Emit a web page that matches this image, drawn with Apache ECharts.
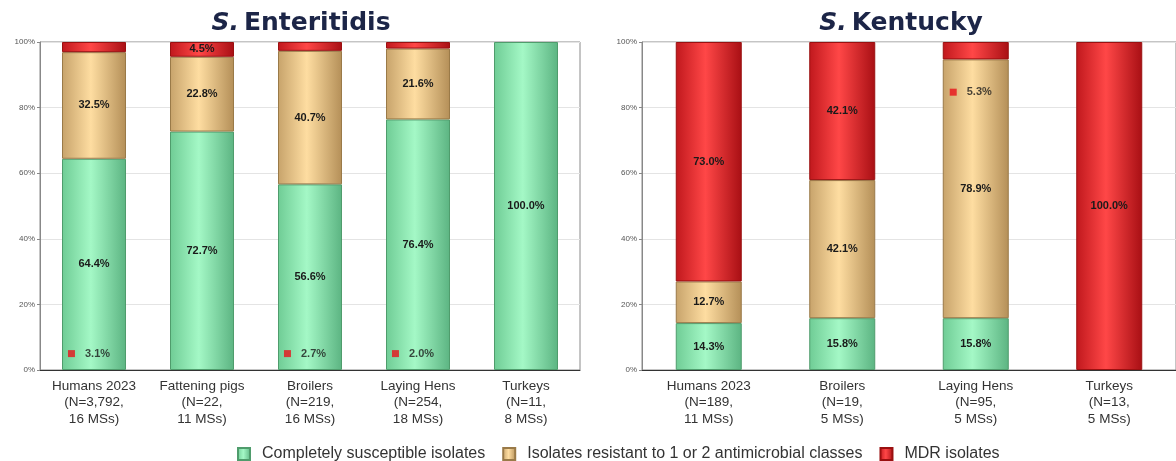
<!DOCTYPE html>
<html><head><meta charset="utf-8">
<script src="https://cdn.jsdelivr.net/npm/echarts@6/dist/echarts.min.js"></script>
<style>html,body{margin:0;padding:0;background:#fff}#c{width:1176px;height:461px}</style>
</head><body><div id="c"></div>
<script>
const seriesNames = ['Completely susceptible isolates', 'Isolates resistant to 1 or 2 antimicrobial classes', 'MDR isolates'];
const yTicks = [0, 20, 40, 60, 80, 100];

const entCats = ['Humans 2023\n(N=3,792,\n16 MSs)', 'Fattening pigs\n(N=22,\n11 MSs)', 'Broilers\n(N=219,\n16 MSs)', 'Laying Hens\n(N=254,\n18 MSs)', 'Turkeys\n(N=11,\n8 MSs)'];
const entSusceptible = [64.4, 72.7, 56.6, 76.4, 100.0];
const entResistant = [32.5, 22.8, 40.7, 21.6, 0];
const entMdr = [3.1, 4.5, 2.7, 2.0, 0];
const entMdrCallout = [true, false, true, true, false];

const kenCats = ['Humans 2023\n(N=189,\n11 MSs)', 'Broilers\n(N=19,\n5 MSs)', 'Laying Hens\n(N=95,\n5 MSs)', 'Turkeys\n(N=13,\n5 MSs)'];
const kenSusceptible = [14.3, 15.8, 15.8, 0];
const kenResistant = [12.7, 42.1, 78.9, 0];
const kenMdr = [73.0, 42.1, 5.3, 100.0];
const kenMdrCallout = [false, false, true, false];

function grad(a, b, c) {
  return new echarts.graphic.LinearGradient(0, 0, 1, 0, [
    {offset: 0, color: a}, {offset: 0.45, color: b}, {offset: 1, color: c}]);
}
const styles = [
  {color: grad('#6fcc95', '#a4f8c6', '#5cb482'), borderColor: '#4f9c6c'},
  {color: grad('#c7a36b', '#fedda1', '#b48f58'), borderColor: '#9a7a48'},
  {color: grad('#c0181d', '#ff4747', '#a80f14'), borderColor: '#9a1010'}
];
const labelFont = {fontFamily: 'Liberation Sans, Arial, sans-serif', fontWeight: 'bold', fontSize: 11, color: '#1a1a1a'};

function barSeries(gi, values, callout, name, si, bw) {
  return {
    type: 'bar', name: name, stack: 'g' + gi, xAxisIndex: gi, yAxisIndex: gi,
    data: values.map(v => v === 0 ? '-' : v), barWidth: bw,
    itemStyle: Object.assign({borderWidth: 1}, styles[si]),
    label: Object.assign({show: true, position: 'inside',
      formatter: p => (p.value > 0 && !(callout && callout[p.dataIndex])) ? p.value.toFixed(1) + '%' : ''}, labelFont)
  };
}
function calloutSeries(gi, mdr, callout, yFn) {
  const data = [];
  mdr.forEach((v, i) => { if (callout[i]) data.push({value: [i, yFn(i)], mdr: v}); });
  return {
    type: 'scatter', xAxisIndex: gi, yAxisIndex: gi, symbolSize: 0, silent: true,
    data: data,
    label: {show: true, position: 'inside', offset: [-5, 0],
      formatter: p => '{m|}   {v|' + p.data.mdr.toFixed(1) + '%}',
      rich: {m: {width: 7, height: 7, backgroundColor: '#e8111a'}, v: labelFont}}
  };
}

const chart = echarts.init(document.getElementById('c'));
const xAxisBase = (cats, gi) => ({
  type: 'category', gridIndex: gi, data: cats,
  axisLine: {lineStyle: {color: '#333'}}, axisTick: {show: false},
  axisLabel: {interval: 0, margin: 8, fontSize: 13.5, lineHeight: 16.5, color: '#333', fontFamily: 'Liberation Sans, Arial, sans-serif'}
});
const yAxisBase = gi => ({
  type: 'value', gridIndex: gi, min: 0, max: 100, interval: 20,
  axisLine: {show: true, lineStyle: {color: '#888'}},
  axisTick: {show: true, length: 3, lineStyle: {color: '#888'}},
  axisLabel: {formatter: v => yTicks.includes(v) ? v + '%' : '', fontSize: 8, color: '#555', margin: 5, fontFamily: 'Liberation Sans, Arial, sans-serif'},
  splitLine: {lineStyle: {color: '#e4e4e4'}}
});
const titleRich = {
  i: {fontStyle: 'italic', fontWeight: 'bold', fontSize: 25, color: '#1c2547', fontFamily: 'DejaVu Sans'},
  n: {fontWeight: 'bold', fontSize: 25, color: '#1c2547', fontFamily: 'DejaVu Sans'}
};

chart.setOption({
  animation: false,
  title: [
    {text: '{i|S.} {n|Enteritidis}', left: 296, top: 6, textAlign: 'center', textStyle: {rich: titleRich}},
    {text: '{i|S.} {n|Kentucky}', left: 896, top: 6, textAlign: 'center', textStyle: {rich: titleRich}}
  ],
  legend: {
    data: seriesNames, left: 232, top: 441, itemWidth: 12, itemHeight: 12, itemGap: 17, icon: 'rect',
    textStyle: {fontSize: 16, color: '#333', padding: [0, 0, 0, 7], fontFamily: 'Liberation Sans, Arial, sans-serif'}
  },
  grid: [
    {left: 40, width: 540, top: 42, bottom: 91, show: true, borderColor: '#8a8a8a', borderWidth: 1},
    {left: 642, right: 0, top: 42, bottom: 91, show: true, borderColor: '#8a8a8a', borderWidth: 1}
  ],
  xAxis: [xAxisBase(entCats, 0), xAxisBase(kenCats, 1)],
  yAxis: [yAxisBase(0), yAxisBase(1)],
  series: [
    barSeries(0, entSusceptible, null, seriesNames[0], 0, 64),
    barSeries(0, entResistant, null, seriesNames[1], 1, 64),
    barSeries(0, entMdr, entMdrCallout, seriesNames[2], 2, 64),
    barSeries(1, kenSusceptible, null, seriesNames[0], 0, 66),
    barSeries(1, kenResistant, null, seriesNames[1], 1, 66),
    barSeries(1, kenMdr, kenMdrCallout, seriesNames[2], 2, 66),
    calloutSeries(0, entMdr, entMdrCallout, i => 5),
    calloutSeries(1, kenMdr, kenMdrCallout, i => kenSusceptible[i] + kenResistant[i] - 10)
  ]
});
</script></body></html>
